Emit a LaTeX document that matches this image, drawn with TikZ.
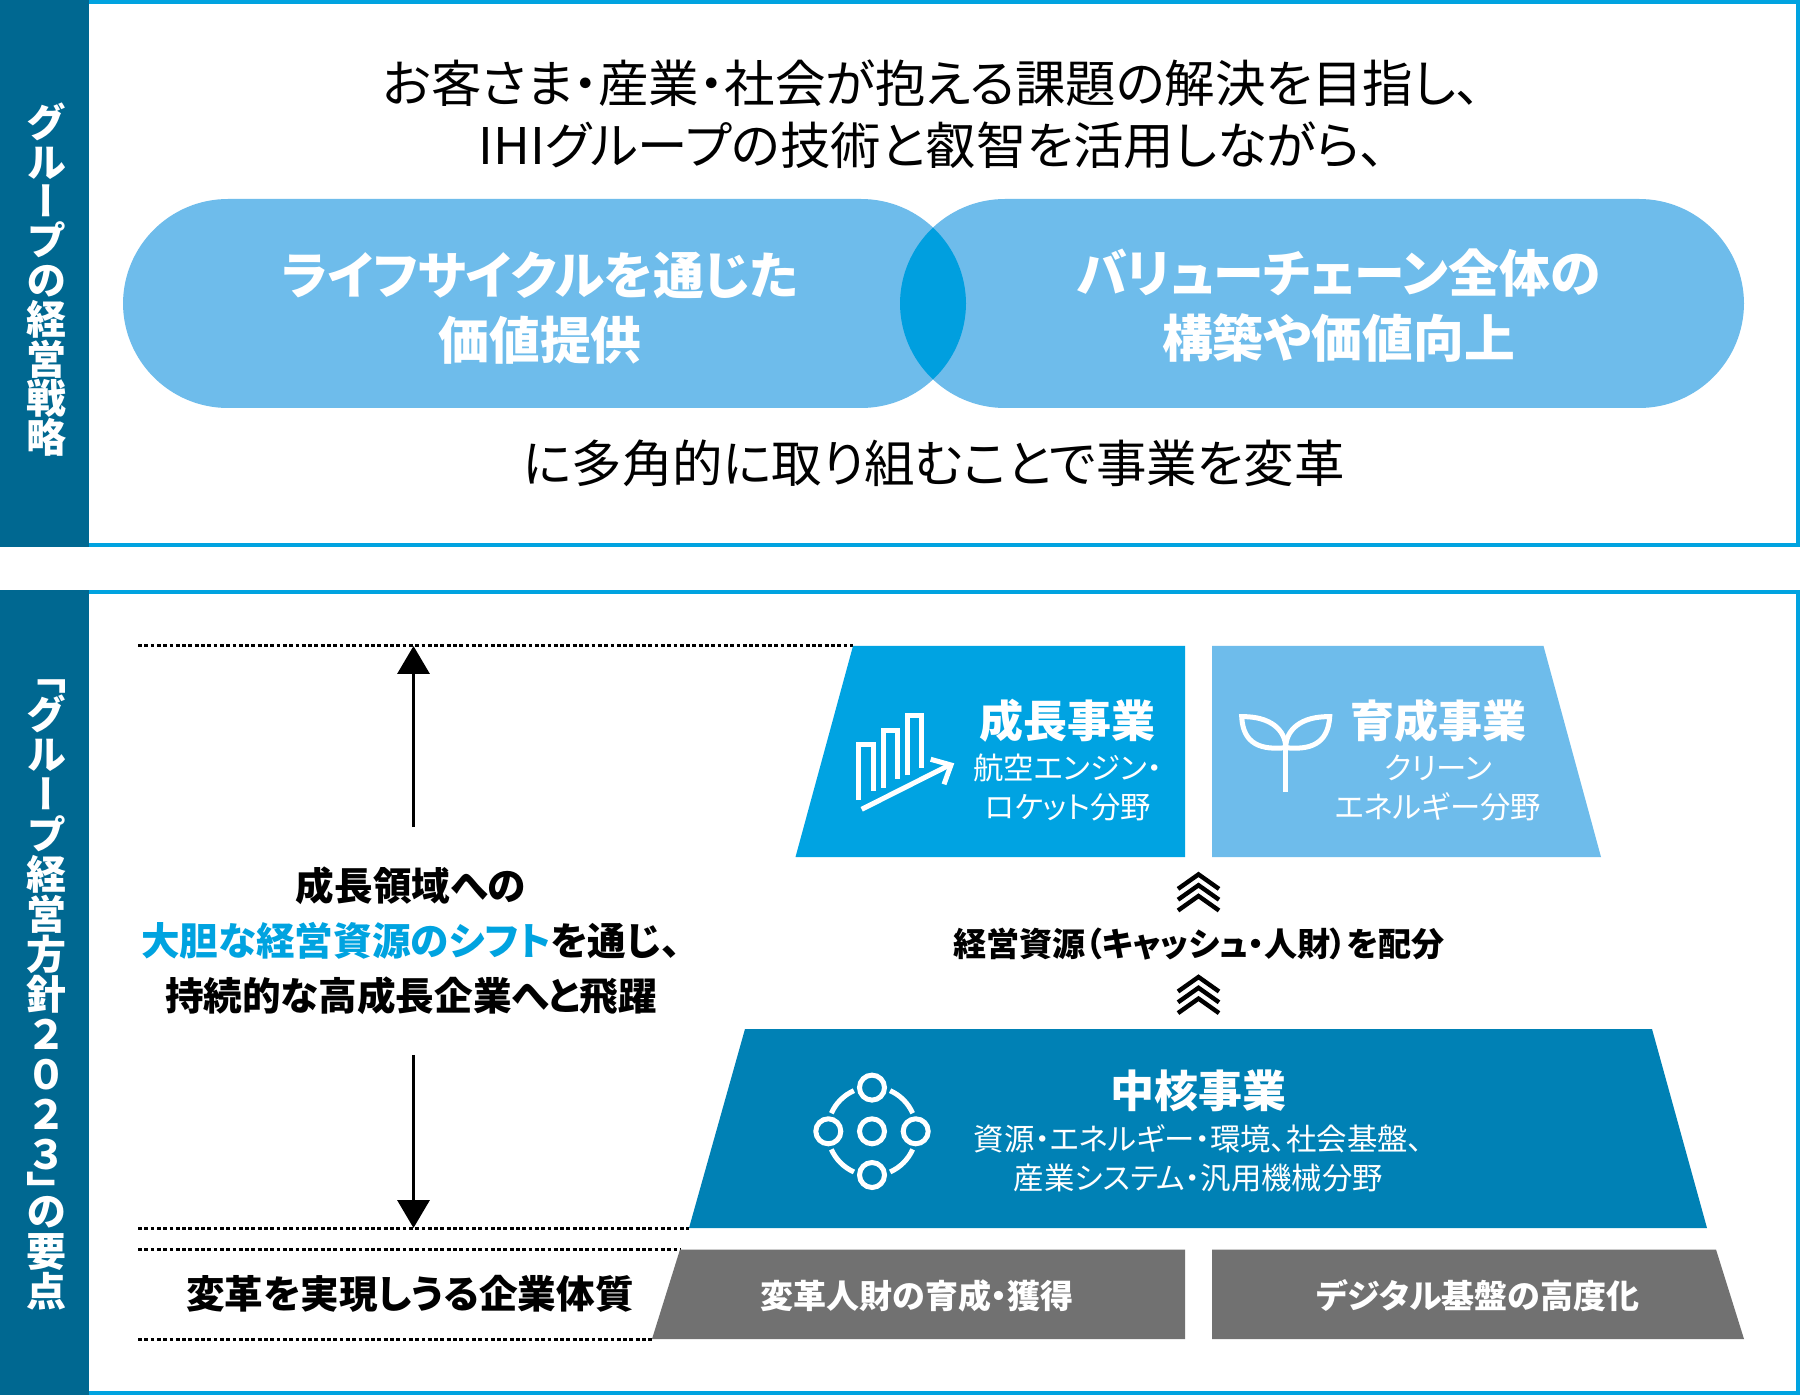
\documentclass[tikz,border=0pt]{standalone}
\usepackage{fontspec}
\usepackage{xcolor}
\setmainfont{Noto Sans CJK JP}[RawFeature=+palt]
\newfontfamily\vertjp{Noto Sans CJK JP}[RawFeature=+vert]
\usetikzlibrary{arrows.meta,calc}

\definecolor{framecyan}{HTML}{00A3E0}
\definecolor{sidebarblue}{HTML}{006891}
\definecolor{pillblue}{HTML}{6EBCEB}
\definecolor{lensblue}{HTML}{009FDF}
\definecolor{growthblue}{HTML}{00A3E2}
\definecolor{coreblue}{HTML}{0081B5}
\definecolor{basegray}{HTML}{717171}

\tikzset{
	panel/.style={draw=framecyan,line width=2pt,fill=white},
	sidebar/.style={fill=sidebarblue},
	sidetext/.style={text=white,align=center,inner sep=0pt,font={\vertjp\bfseries\fontsize{20pt}{#1}\selectfont\lineskiplimit=-20pt}},
	headtext/.style={align=center,inner sep=0pt,font={\fontsize{25.25pt}{31pt}\selectfont\lineskiplimit=-20pt}},
	pilltext/.style={text=white,align=center,inner sep=0pt,font={\bfseries\fontsize{25.4pt}{32.5pt}\selectfont\lineskiplimit=-20pt}},
	leadtext/.style={align=center,inner sep=0pt,font={\bfseries\fontsize{19.3pt}{27.5pt}\selectfont\lineskiplimit=-20pt}},
	unittitle/.style={text=white,inner sep=0pt,font={\bfseries\fontsize{22pt}{22pt}\selectfont}},
	unitsub/.style={text=white,align=center,inner sep=0pt,font={\fontsize{15.2pt}{19.5pt}\selectfont\lineskiplimit=-20pt}},
	basetext/.style={text=white,inner sep=0pt,font={\bfseries\fontsize{16.5pt}{16.5pt}\selectfont}},
	dotline/.style={line width=1.5pt,dash pattern=on 1.9pt off 1.25pt},
	spanarrow/.style={line width=1.8pt,-{Triangle[length=14pt,width=16pt]}},
	chevron/.style={line width=2.2pt,miter limit=10},
	iconline/.style={white,line width=2.5pt},
}

\begin{document}
\begin{tikzpicture}[x=0.5pt,y=-0.5pt]
	\useasboundingbox (0,0) rectangle (1800,1395);

	% strategy panel
	\draw[panel] (2,2) rectangle (1798,545);
	\fill[sidebar] (0,0) rectangle (89,547);
	\node[sidetext=19.7pt] (stratside) at (46,280) {グ\\ル\\ー\\プ\\の\\経\\営\\戦\\略};
	\node[headtext] (stratintro) at (932,114.5) {お客さま・産業・社会が抱える課題の解決を目指し、\\IHIグループの技術と叡智を活用しながら、};

	\fill[pillblue,rounded corners=52.5pt] (123,199) rectangle (966,408);
	\fill[pillblue,rounded corners=52.5pt] (900,199) rectangle (1744,408);
	\begin{scope}
		\clip[rounded corners=52.5pt] (123,199) rectangle (966,408);
		\fill[lensblue,rounded corners=52.5pt] (900,199) rectangle (1744,408);
	\end{scope}
	\node[pilltext] (lifecycle) at (540,308.5) {ライフサイクルを通じた\\価値提供};
	\node[pilltext] (valuechain) at (1338.5,306) {バリューチェーン全体の\\構築や価値向上};
	\node[headtext] (stratoutro) at (934,463.5) {に多角的に取り組むことで事業を変革};

	% policy panel
	\draw[panel] (2,592) rectangle (1798,1393);
	\fill[sidebar] (0,590) rectangle (89,1395);
	\node[sidetext=20pt] (polside) at (46,994.5) {「\\グ\\ル\\ー\\プ\\経\\営\\方\\針\\２\\０\\２\\３\\[-2pt]」\\[-9.5pt]の\\要\\点};

	% dotted guides
	\coordinate (guideA) at (138,646);
	\coordinate (guideB) at (138,1228);
	\coordinate (guideC) at (138,1249.5);
	\coordinate (guideD) at (138,1339);
	\draw[dotline] (guideA) -- (853,646);
	\draw[dotline] (guideB) -- (689,1228);
	\draw[dotline] (guideC) -- (680,1249.5);
	\draw[dotline] (guideD) -- (652,1339);

	% left column
	\node[leadtext,minimum height=113.5pt] (shift) at (411,941) {成長領域への\\\textcolor{framecyan}{大胆な経営資源のシフト}を通じ、\\持続的な高成長企業へと飛躍};
	\coordinate (uptip) at (413.5,646);
	\coordinate (downtip) at (413.5,1228);
	\draw[spanarrow] (shift.north -| uptip) -- (uptip);
	\draw[spanarrow] (shift.south -| downtip) -- (downtip);
	\node[leadtext] (culture) at (410,1294) {変革を実現しうる企業体質};

	% trapezoids
	\fill[growthblue] (853,646) -- (1185,646) -- (1185,857) -- (795.5,857) -- cycle;
	\fill[pillblue] (1212,646) -- (1543.5,646) -- (1601,857) -- (1212,857) -- cycle;
	\fill[coreblue] (745,1029) -- (1652,1029) -- (1707,1228) -- (689,1228) -- cycle;
	\fill[basegray] (680,1249.5) -- (1185,1249.5) -- (1185,1339) -- (652,1339) -- cycle;
	\fill[basegray] (1212,1249.5) -- (1716,1249.5) -- (1744,1339) -- (1212,1339) -- cycle;

	\node[unittitle] (growth) at (1067,721) {成長事業};
	\node[unitsub] (growthsub) at (1068,788) {航空エンジン・\\ロケット分野};
	\node[unittitle] (nurture) at (1438,721) {育成事業};
	\node[unitsub] (nurturesub) at (1438,788) {クリーン\\エネルギー分野};
	\node[unittitle] (core) at (1198.5,1091) {中核事業};
	\node[unitsub] (coresub) at (1198.5,1158) {資源・エネルギー・環境、社会基盤、\\産業システム・汎用機械分野};
	\node[basetext] (talent) at (917,1296) {変革人財の育成・獲得};
	\node[basetext] (digital) at (1478,1296) {デジタル基盤の高度化};

	% chevrons and allocation label
	\node[basetext,text=black,font={\bfseries\fontsize{16.55pt}{16.55pt}\selectfont}] (alloc) at (1199,944) {経営資源（キャッシュ・人財）を配分};
	\foreach \cy in {874.4,977}{
		\foreach \dy in {0,10.8,21.6}{
			\draw[chevron] (1178,\cy+\dy+14.5) -- (1198.5,\cy+\dy) -- (1219,\cy+\dy+14.5);
		}
	}

	% growth icon
	\draw[iconline] (858.5,800) -- (858.5,744.8) -- (873.3,744.8) -- (873.3,790.7);
	\draw[iconline] (883.2,787.7) -- (883.2,730.5) -- (897.5,730.5) -- (897.5,779);
	\draw[iconline] (907.5,775.3) -- (907.5,715.8) -- (921.8,715.8) -- (921.8,767.7);
	\draw[iconline] (861.7,809.3) -- (949,765.3);
	\draw[iconline] (930.7,759.3) -- (951,765) -- (944,784.3);

	% sprout icon
	\draw[iconline] (1285.7,747.7) -- (1285.7,791.7);
	\draw[iconline] (1285.7,747.7) .. controls (1285.7,730) and (1270,716) .. (1241.7,716.7) .. controls (1243,745) and (1262,750) .. cycle;
	\draw[iconline] (1285.7,747.7) .. controls (1285.7,730) and (1301,716) .. (1329.7,716.7) .. controls (1328,745) and (1309,750) .. cycle;

	% core icon
	\coordinate (hub) at (872,1131.3);
	\draw[iconline] (hub) circle[radius=12.5];
	\foreach \a in {0,90,180,270}{
		\draw[iconline] ($(hub)+(\a:43.7)$) circle[radius=12.5];
		\draw[iconline] ([shift={(\a+24:44.5)}]hub) arc[start angle=\a+24,end angle=\a+66,radius=44.5];
	}
\end{tikzpicture}
\end{document}
